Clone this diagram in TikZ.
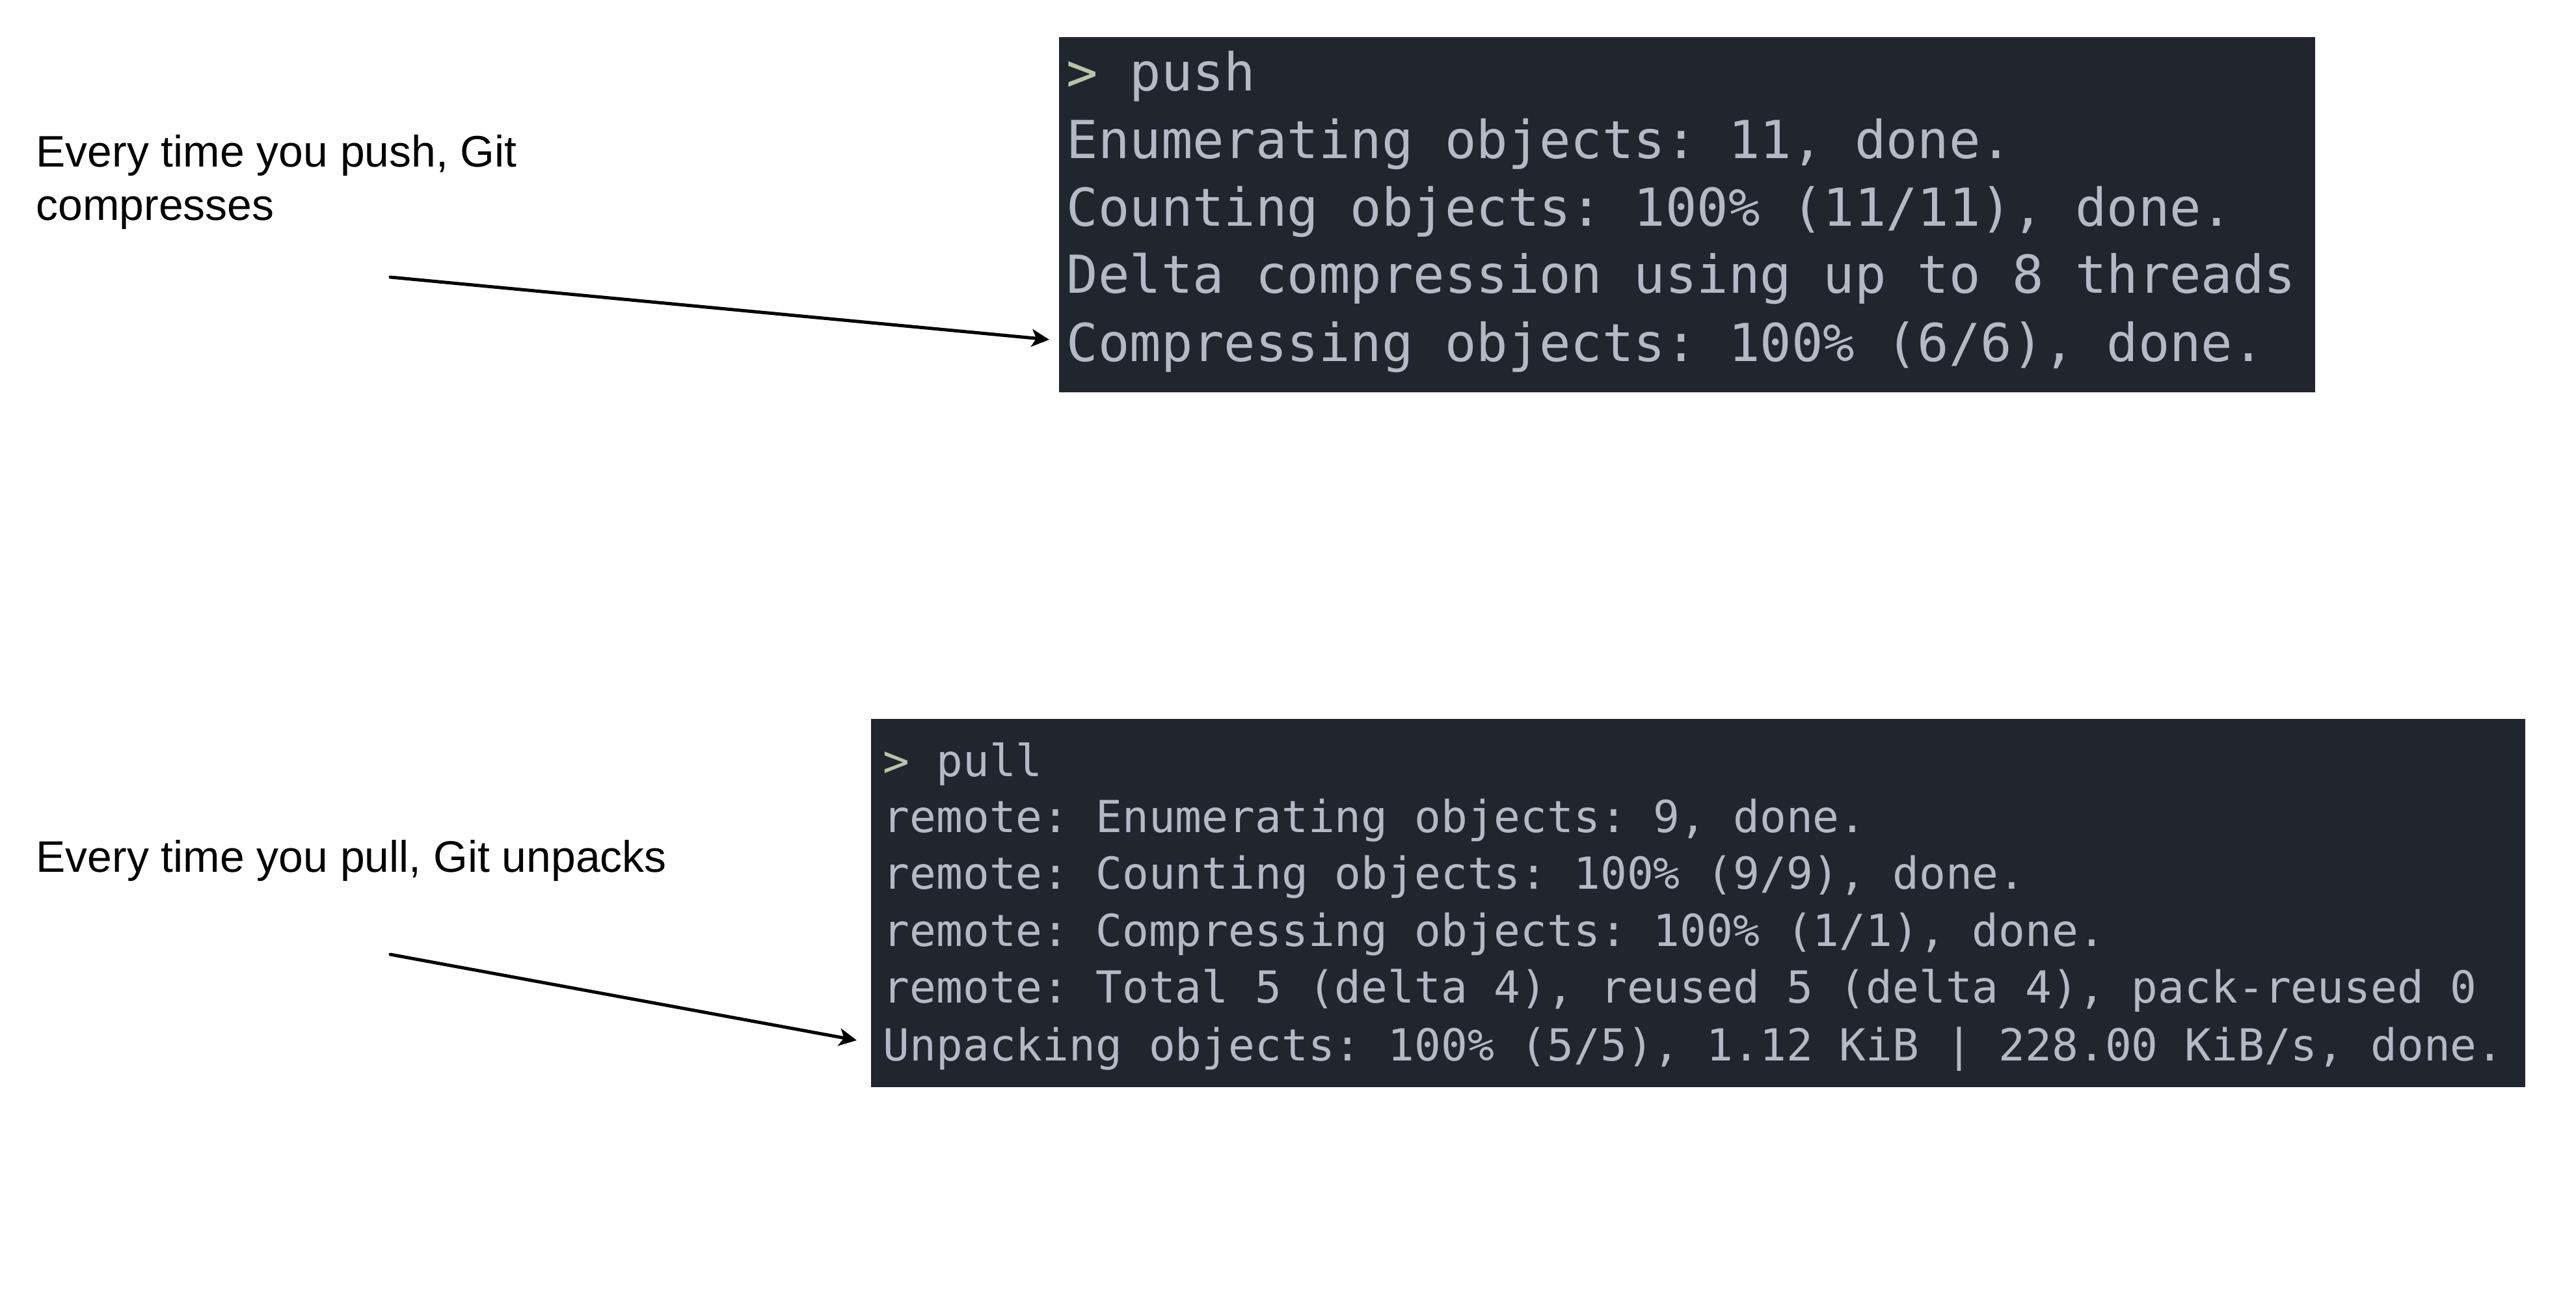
\documentclass[tikz,border=0pt]{standalone}
\usepackage{fontspec}
\setmainfont{Liberation Sans}
\setmonofont{DejaVu Sans Mono}
\usetikzlibrary{arrows.meta}

\definecolor{termbg}{HTML}{21252E}
\definecolor{termtext}{HTML}{B4B9C6}
\definecolor{prompt}{HTML}{B9C3A8}

\tikzset{
	term/.style={fill=termbg, draw=none, anchor=north west, inner sep=0pt},
	label/.style={anchor=base west, inner sep=0pt, align=left, font=\fontsize{19.3}{23.05}\selectfont},
	pushline/.style={anchor=base west, inner xsep=0.26cm, inner ysep=0pt, text=termtext,
		text height=0.80cm, text depth=0.14cm, font=\ttfamily\fontsize{22.9}{27}\selectfont},
	pullline/.style={anchor=base west, inner xsep=0.40cm, inner ysep=0pt, text=termtext,
		text height=0.72cm, text depth=0.10cm, font=\ttfamily\fontsize{19.3}{23}\selectfont},
	arr/.style={-{Stealth[length=0.27cm, width=0.27cm, inset=0.07cm]}, line width=0.05cm, line cap=round}
}

\begin{document}
\begin{tikzpicture}
				\useasboundingbox (0, 0) rectangle (39.6, -20.12);
				% push
				\node[term, minimum width=19.31cm, minimum height=5.46cm] (pushterm) at (16.27, -0.56) {};
				\node[pushline] (pushl1) at (16.13, -1.40) {\textcolor{prompt}{>} push};
				\node[pushline] (pushl2) at (16.13, -2.43) {Enumerating objects: 11, done.};
				\node[pushline] (pushl3) at (16.13, -3.47) {Counting objects: 100\% (11/11), done.};
				\node[pushline] (pushl4) at (16.13, -4.50) {Delta compression using up to 8 threads};
				\node[pushline] (pushl5) at (16.13, -5.55) {Compressing objects: 100\% (6/6), done.};
				\node[label] (pushlabel) at (0.55, -3.38) {Every time you push, Git\\compresses};
				\coordinate (pushtail) at (6.00, -4.26);
				\draw[arr] (pushtail) to (pushl5.west);
				% pull
				\node[term, minimum width=25.43cm, minimum height=5.66cm] (pullterm) at (13.38, -11.04) {};
				\node[pullline] (pulll1) at (13.17, -11.93) {\textcolor{prompt}{>} pull};
				\node[pullline] (pulll2) at (13.17, -12.79) {remote: Enumerating objects: 9, done.};
				\node[pullline] (pulll3) at (13.17, -13.66) {remote: Counting objects: 100\% (9/9), done.};
				\node[pullline] (pulll4) at (13.17, -14.54) {remote: Compressing objects: 100\% (1/1), done.};
				\node[pullline] (pulll5) at (13.17, -15.41) {remote: Total 5 (delta 4), reused 5 (delta 4), pack-reused 0};
				\node[pullline] (pulll6) at (13.17, -16.30) {Unpacking objects: 100\% (5/5), 1.12 KiB | 228.00 KiB/s, done.};
				\node[label] (pulllabel) at (0.55, -13.40) {Every time you pull, Git unpacks};
				\coordinate (pulltail) at (6.00, -14.67);
				\draw[arr] (pulltail) to (pulll6.west);
			\end{tikzpicture}
\end{document}
